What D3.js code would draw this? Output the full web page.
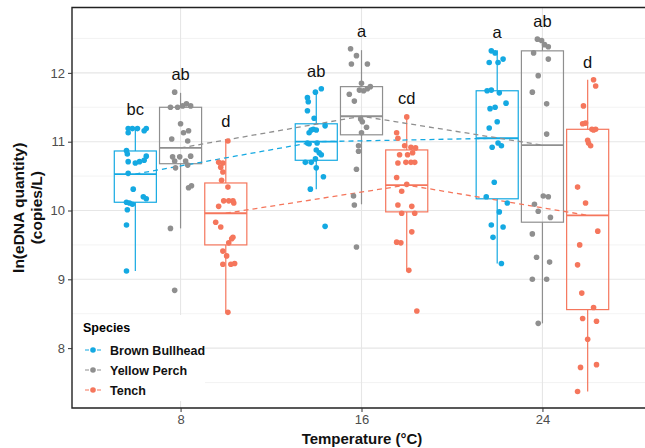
<!DOCTYPE html>
<html>
<head>
<meta charset="utf-8">
<script src="https://cdn.jsdelivr.net/npm/d3@7"></script>
<style>
  body { margin: 0; background: #fff; }
  svg { display: block; font-family: Arial, "Liberation Sans", sans-serif; }
</style>
</head>
<body>
<svg width="645" height="448"></svg>
<script>
// temperatures and species
var temps = ["8", "16", "24"];
var species = ["Brown Bullhead", "Yellow Perch", "Tench"];
var colors = ["#14A9E2", "#8F8F8F", "#F5765C"];
var yTicks = [8, 9, 10, 11, 12];

// box stats per temperature: [lower whisker, q1, median, q3, upper whisker]
var bullheadBox = [[9.12, 10.12, 10.53, 10.865, 11.21], [10.31, 10.73, 11.0, 11.26, 11.75], [9.23, 10.17, 11.05, 11.74, 12.33]];
var perchBox    = [[9.74, 10.68, 10.91, 11.50, 11.71], [10.09, 11.10, 11.37, 11.80, 12.33], [8.36, 9.83, 10.95, 12.32, 12.49]];
var tenchBox    = [[8.52, 9.50, 9.96, 10.40, 11.04], [9.12, 9.98, 10.37, 10.88, 11.37], [7.37, 8.56, 9.93, 11.18, 11.90]];

// significance letters
var bullheadLetters = ["bc", "ab", "a"];
var perchLetters = ["ab", "a", "ab"];
var tenchLetters = ["d", "cd", "d"];

// observed ln(copies/L)
var bullheadPts = [
  [11.19, 11.19, 11.19, 11.16, 11.19, 11.13, 10.87, 10.82, 10.71, 10.69, 10.71, 10.73, 10.79, 10.54, 10.31, 10.12, 10.11, 10.09, 10.20, 10.17, 9.79, 10.01, 9.12],
  [11.77, 11.72, 11.64, 11.58, 11.45, 11.34, 11.17, 11.18, 11.17, 11.23, 11.13, 10.98, 10.97, 10.98, 10.88, 10.84, 10.81, 10.70, 10.70, 10.75, 10.62, 10.49, 10.31, 9.77],
  [12.32, 12.29, 12.15, 12.15, 12.20, 11.74, 11.75, 11.71, 11.56, 11.48, 11.50, 11.29, 11.20, 10.92, 10.98, 10.94, 10.41, 10.20, 10.11, 9.98, 9.79, 9.76, 9.61, 9.23]
];
var perchPts = [
  [11.72, 11.50, 11.50, 11.52, 11.55, 11.52, 11.26, 11.13, 11.16, 11.04, 11.01, 10.78, 10.72, 10.78, 10.72, 10.79, 10.66, 10.62, 10.33, 10.36, 9.74, 8.84],
  [12.35, 12.25, 12.13, 12.13, 11.85, 11.77, 11.80, 11.74, 11.75, 11.69, 11.59, 11.33, 11.29, 11.21, 11.13, 10.94, 10.86, 10.60, 10.21, 10.08, 9.47],
  [12.49, 12.47, 12.41, 12.38, 12.29, 12.20, 11.96, 11.72, 11.55, 11.11, 10.21, 10.20, 10.09, 9.99, 9.90, 9.66, 9.32, 9.25, 9.00, 9.00, 8.36]
];
var tenchPts = [
  [11.01, 10.70, 10.69, 10.63, 10.56, 10.44, 10.34, 10.06, 10.14, 10.14, 10.14, 10.11, 9.83, 9.76, 9.61, 9.53, 9.59, 9.41, 9.34, 9.22, 9.22, 9.23, 8.52],
  [11.36, 11.13, 11.05, 10.94, 10.92, 10.91, 10.81, 10.84, 10.81, 10.70, 10.70, 10.70, 10.69, 10.48, 10.38, 10.28, 10.08, 10.06, 9.96, 9.96, 9.69, 9.54, 9.53, 9.13, 8.54],
  [11.90, 11.81, 11.52, 11.27, 11.26, 11.18, 11.18, 11.17, 11.02, 10.98, 10.94, 10.34, 10.11, 9.70, 9.50, 9.21, 8.80, 8.59, 8.43, 8.39, 8.13, 7.72, 7.76, 7.37]
];

// horizontal jitter (fraction of box width)
var bullheadJit = [
  [-0.17, -0.07, 0.05, 0.21, 0.26, -0.17, -0.21, -0.19, -0.17, 0, 0.1, 0.21, 0.26, -0.17, -0.05, -0.21, -0.14, -0.07, 0.19, 0.26, -0.21, -0.19, -0.21],
  [0.12, -0.02, -0.21, -0.19, -0.21, -0.05, -0.12, -0.07, 0, 0.21, -0.17, -0.21, -0.17, 0.02, 0, 0.07, 0.12, -0.26, -0.12, -0.02, 0, 0.17, -0.14, 0.21],
  [-0.14, -0.05, -0.19, 0.02, 0.14, -0.24, -0.14, 0.05, 0.21, -0.17, -0.05, 0, -0.19, -0.12, 0.02, 0.1, -0.07, -0.26, 0.24, 0.05, -0.14, 0.14, -0.1, 0.1]
];
var perchJit = [
  [-0.14, -0.24, -0.07, 0.05, 0.14, 0.24, 0, 0.07, 0.19, -0.21, 0.17, -0.19, -0.14, -0.02, 0.12, 0.24, 0.17, -0.12, 0.19, 0.26, -0.24, -0.14],
  [-0.26, -0.12, -0.24, 0.14, 0, 0.14, 0.21, 0.05, -0.05, -0.29, -0.17, -0.02, 0.02, 0.12, 0, -0.07, -0.07, -0.12, -0.19, -0.17, -0.12],
  [-0.12, -0.02, 0.05, 0.14, -0.21, 0.14, -0.1, -0.24, 0.1, 0.1, 0.02, 0.14, -0.19, -0.1, 0.19, -0.24, -0.14, 0.17, -0.24, 0.1, -0.1]
];
var tenchJit = [
  [0.05, -0.17, -0.07, -0.12, -0.07, -0.1, 0.05, -0.17, -0.05, 0.07, 0.17, 0.19, -0.24, -0.12, 0.17, 0.07, 0.14, -0.07, 0.02, -0.07, 0.12, 0.21, 0.05],
  [0, -0.24, -0.21, -0.05, 0.1, 0.21, 0.02, 0.14, -0.17, 0.1, 0.19, -0.02, -0.21, -0.24, 0, -0.12, -0.21, 0.12, -0.12, 0.19, 0.12, -0.24, -0.14, 0.05, 0.24],
  [0.14, 0.19, -0.1, -0.05, -0.12, 0.1, 0.19, 0.14, 0, 0.02, 0.07, -0.24, -0.05, 0.24, -0.19, -0.24, -0.14, 0.14, -0.12, 0.21, 0, -0.17, 0.21, -0.24]
];

var boxes = [bullheadBox, perchBox, tenchBox];
var letters = [bullheadLetters, perchLetters, tenchLetters];
var pts = [bullheadPts, perchPts, tenchPts];
var jits = [bullheadJit, perchJit, tenchJit];

var svg = d3.select("svg");
var pLeft = 72, pTop = 7.5, pBottom = 408, pRight = 651;

var x = d3.scalePoint().domain(temps).range([pLeft, pRight]).padding(0.6);
var y = d3.scaleLinear().domain([7.13, 12.95]).range([pBottom, pTop]);
var dodge = x.step() * 0.75 / 3;
var boxW = dodge * 0.93;
function cx(ti, si) { return x(temps[ti]) + (si - 1) * dodge; }

// grid
var grid = svg.append("g");
var minors = d3.range(7.5, 13, 1);
grid.selectAll(".minor").data(minors).enter().append("line")
  .attr("x1", pLeft).attr("x2", pRight)
  .attr("y1", function(d){ return y(d); }).attr("y2", function(d){ return y(d); })
  .attr("stroke", "#EBEBEB").attr("stroke-width", 0.6);
grid.selectAll(".major").data(yTicks).enter().append("line")
  .attr("x1", pLeft).attr("x2", pRight)
  .attr("y1", function(d){ return y(d); }).attr("y2", function(d){ return y(d); })
  .attr("stroke", "#E6E6E6").attr("stroke-width", 1.1);
grid.selectAll(".vmajor").data(temps).enter().append("line")
  .attr("x1", function(d){ return x(d); }).attr("x2", function(d){ return x(d); })
  .attr("y1", pTop).attr("y2", pBottom)
  .attr("stroke", "#E6E6E6").attr("stroke-width", 1.1);

// boxes
species.forEach(function(sp, si) {
  var g = svg.append("g").attr("stroke", colors[si]).attr("fill", "none");
  boxes[si].forEach(function(b, ti) {
    var c = cx(ti, si);
    g.append("line").attr("x1", c).attr("x2", c).attr("y1", y(b[0])).attr("y2", y(b[1])).attr("stroke-width", 1.2);
    g.append("line").attr("x1", c).attr("x2", c).attr("y1", y(b[3])).attr("y2", y(b[4])).attr("stroke-width", 1.2);
    g.append("rect").attr("x", c - boxW / 2).attr("width", boxW)
      .attr("y", y(b[3])).attr("height", y(b[1]) - y(b[3])).attr("stroke-width", 1.2);
    g.append("line").attr("x1", c - boxW / 2).attr("x2", c + boxW / 2)
      .attr("y1", y(b[2])).attr("y2", y(b[2])).attr("stroke-width", 1.8);
  });
});

// dashed median lines
var line = d3.line().x(function(d){ return d[0]; }).y(function(d){ return d[1]; });
species.forEach(function(sp, si) {
  var lp = boxes[si].map(function(b, ti){ return [cx(ti, si), y(b[2])]; });
  svg.append("path").attr("d", line(lp)).attr("fill", "none")
    .attr("stroke", colors[si]).attr("stroke-width", 1.3).attr("stroke-dasharray", "5,4");
});

// jittered points
species.forEach(function(sp, si) {
  var g = svg.append("g").attr("fill", colors[si]);
  pts[si].forEach(function(vals, ti) {
    g.selectAll(null).data(vals).enter().append("circle")
      .attr("cx", function(d, i){ return cx(ti, si) + jits[si][ti][i] * boxW; })
      .attr("cy", function(d){ return y(d); })
      .attr("r", 2.8);
  });
});

// letters
species.forEach(function(sp, si) {
  letters[si].forEach(function(l, ti) {
    var hi = Math.max(d3.max(pts[si][ti]), boxes[si][ti][4]);
    svg.append("text").attr("x", cx(ti, si)).attr("y", y(hi) - 12)
      .attr("text-anchor", "middle").attr("font-size", 16.5).attr("fill", "#111").text(l);
  });
});

// legend
var lg = svg.append("g");
lg.append("rect").attr("x", pLeft + 1).attr("y", 315).attr("width", 132).attr("height", 86).attr("fill", "#fff");
lg.append("text").attr("x", 83).attr("y", 332).attr("font-size", 12.5).attr("font-weight", "bold").text("Species");
species.forEach(function(sp, si) {
  var ly = 350 + si * 20;
  lg.append("line").attr("x1", 85).attr("x2", 101).attr("y1", ly).attr("y2", ly)
    .attr("stroke", colors[si]).attr("stroke-width", 1.2).attr("stroke-dasharray", "4,2");
  lg.append("circle").attr("cx", 93).attr("cy", ly).attr("r", 2.8).attr("fill", colors[si]);
  lg.append("text").attr("x", 110).attr("y", ly + 4.5).attr("font-size", 12.5)
    .attr("font-weight", "bold").attr("fill", "#111").text(sp);
});

// panel border
svg.append("path").attr("d", "M" + pRight + "," + pTop + "H" + pLeft + "V" + pBottom + "H" + pRight)
  .attr("fill", "none").attr("stroke", "#222").attr("stroke-width", 1.4);

// axes
var yAxis = svg.append("g").attr("transform", "translate(" + pLeft + ",0)")
  .call(d3.axisLeft(y).tickValues(yTicks).tickSize(4).tickPadding(3).tickFormat(d3.format("d")));
yAxis.select(".domain").remove();
yAxis.selectAll("line").attr("stroke", "#333");
yAxis.selectAll("text").attr("font-size", 13).attr("fill", "#4D4D4D").attr("font-family", "Arial, 'Liberation Sans', sans-serif");

var xAxis = svg.append("g").attr("transform", "translate(0," + pBottom + ")")
  .call(d3.axisBottom(x).tickSize(4).tickPadding(3));
xAxis.select(".domain").remove();
xAxis.selectAll("line").attr("stroke", "#333");
xAxis.selectAll("text").attr("font-size", 13).attr("fill", "#4D4D4D").attr("font-family", "Arial, 'Liberation Sans', sans-serif");

// titles
svg.append("text").attr("x", 362).attr("y", 444).attr("text-anchor", "middle")
  .attr("font-size", 15).attr("font-weight", "bold").attr("fill", "#111").text("Temperature (°C)");
var yt = svg.append("text").attr("transform", "translate(24," + ((pTop + pBottom) / 2) + ") rotate(-90)")
  .attr("text-anchor", "middle").attr("font-size", 15.5).attr("font-weight", "bold").attr("fill", "#111");
yt.append("tspan").attr("x", 0).attr("dy", 0).text("ln(eDNA quantity)");
yt.append("tspan").attr("x", 0).attr("dy", 18).text("(copies/L)");
</script>
</body>
</html>
